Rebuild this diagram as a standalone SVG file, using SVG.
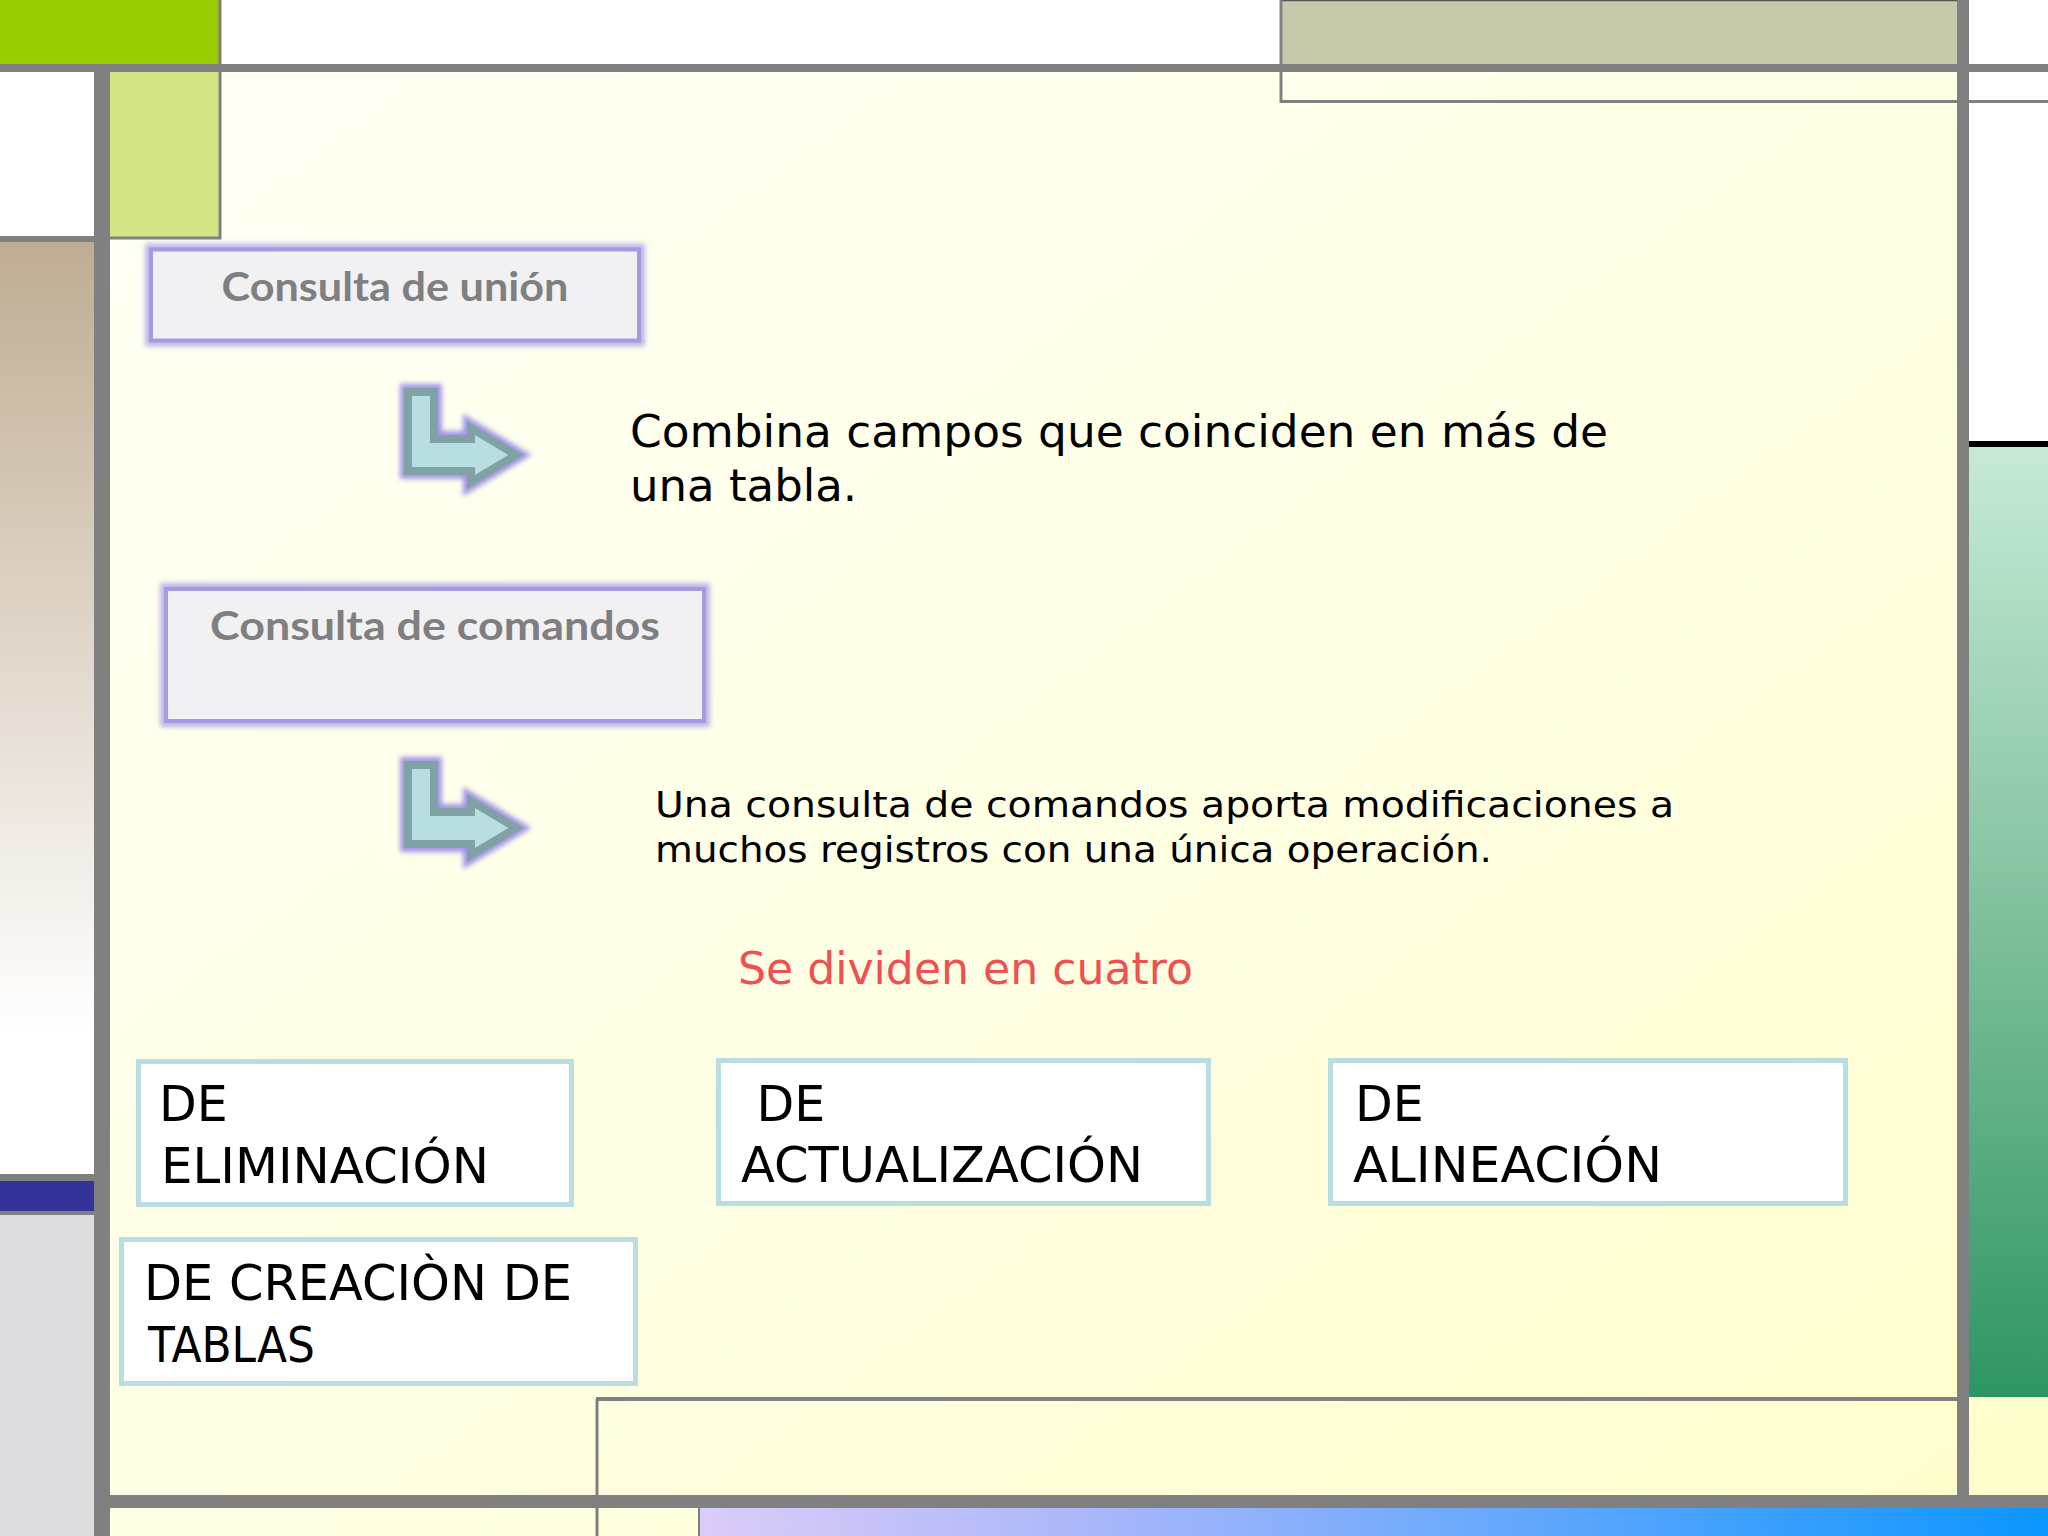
<svg xmlns="http://www.w3.org/2000/svg" width="2048" height="1536" viewBox="0 0 2048 1536">
  <defs>
    <linearGradient id="bg" x1="0" y1="0" x2="1" y2="1">
      <stop offset="0" stop-color="#FFFFF7"/>
      <stop offset="0.5" stop-color="#FFFFE6"/>
      <stop offset="1" stop-color="#FEFECB"/>
    </linearGradient>
    <linearGradient id="tan" x1="0" y1="0" x2="0" y2="1">
      <stop offset="0" stop-color="#BFAD93"/>
      <stop offset="0.45" stop-color="#E2D8CC"/>
      <stop offset="0.85" stop-color="#FFFFFF"/>
      <stop offset="1" stop-color="#FFFFFF"/>
    </linearGradient>
    <linearGradient id="green" x1="0" y1="0" x2="0" y2="1">
      <stop offset="0" stop-color="#C6EAD6"/>
      <stop offset="0.5" stop-color="#7FC09C"/>
      <stop offset="1" stop-color="#2E9563"/>
    </linearGradient>
    <linearGradient id="bluebar" x1="0" y1="0" x2="1" y2="0">
      <stop offset="0" stop-color="#DCCCF8"/>
      <stop offset="0.3" stop-color="#A8B6FA"/>
      <stop offset="1" stop-color="#0B96FF"/>
    </linearGradient>
    <filter id="glow" x="-20%" y="-20%" width="140%" height="140%">
      <feGaussianBlur stdDeviation="2.5"/>
    </filter>
    <style>
      .bar { fill: #808080; }
      .hdr-glow { fill: none; stroke: #A89CE8; stroke-width: 12; opacity: 0.75; }
      .hdr-box { fill: #F1F1F3; stroke: #A59BDF; stroke-width: 4; }
      .hdr-txt { font-family: Lato, "DejaVu Sans", sans-serif; font-weight: bold; font-size: 41px; fill: #7F7F7F; text-anchor: middle; }
      .body { font-family: "DejaVu Sans", "Liberation Sans", sans-serif; fill: #000000; }
      .red { font-family: "DejaVu Sans", "Liberation Sans", sans-serif; fill: #F05050; font-size: 44px; }
      .cat-box { fill: #FFFFFF; stroke: #B9DEE2; stroke-width: 5; }
      .cat-txt { font-family: "DejaVu Sans", "Liberation Sans", sans-serif; font-size: 49px; fill: #000000; }
      .arr-glow { fill: #9D90E6; stroke: #9D90E6; stroke-width: 16; stroke-linejoin: miter; opacity: 0.95; }
      .arr { fill: #B9DEE1; stroke: #80A2A4; stroke-width: 8; stroke-linejoin: miter; }
      .thin { stroke: #808080; stroke-width: 3; fill: none; }
    </style>
  </defs>

  <!-- background -->
  <rect x="0" y="0" width="2048" height="1536" fill="url(#bg)"/>
  <rect x="221" y="0" width="1059" height="64" fill="#FFFFFF"/>
  <rect x="1969" y="0" width="79" height="64" fill="#FFFFFF"/>
  <rect x="0" y="0" width="221" height="64" fill="#99CC00"/>
  <rect x="1280" y="0" width="677" height="64" fill="#C8C9AA"/>
  <line x1="1280" y1="0.5" x2="1957" y2="0.5" stroke="#555555" stroke-width="1.5"/>
  <rect x="0" y="72" width="94" height="164" fill="#FFFFFF"/>
  <rect x="110" y="72" width="110" height="165" fill="#D2E686"/>
  <rect x="1969" y="72" width="79" height="369" fill="#FFFFFF"/>
  <rect x="0" y="242" width="94" height="932" fill="url(#tan)"/>
  <rect x="0" y="1181" width="94" height="30" fill="#333399"/>
  <rect x="0" y="1215" width="94" height="321" fill="#DCDBDE"/>
  <rect x="1969" y="447" width="79" height="950" fill="url(#green)"/>
  <rect x="1969" y="441" width="79" height="6" fill="#000000"/>
  <rect x="700" y="1508" width="1348" height="28" fill="url(#bluebar)"/>
  <line x1="699" y1="1508" x2="699" y2="1536" stroke="#808080" stroke-width="2"/>

  <!-- frame bars -->
  <rect class="bar" x="0" y="64" width="2048" height="8"/>
  <rect class="bar" x="94" y="72" width="16" height="1464"/>
  <rect class="bar" x="1957" y="0" width="12" height="1508"/>
  <rect class="bar" x="94" y="1495" width="1954" height="13"/>
  <rect class="bar" x="0" y="236" width="94" height="6"/>
  <rect class="bar" x="0" y="1174" width="94" height="7"/>
  <rect class="bar" x="0" y="1211" width="94" height="4"/>
  <line class="thin" x1="220" y1="0" x2="220" y2="239"/>
  <line class="thin" x1="110" y1="238" x2="221" y2="238"/>
  <line class="thin" x1="1281" y1="0" x2="1281" y2="103"/>
  <line class="thin" x1="1280" y1="101.5" x2="2048" y2="101.5"/>
  <line class="thin" x1="597" y1="1399" x2="597" y2="1536"/>
  <line x1="596" y1="1399" x2="1957" y2="1399" stroke="#808080" stroke-width="4"/>

  <!-- header nodes -->
  <g id="node-consulta-union">
    <rect class="hdr-glow" x="151" y="249.5" width="488" height="91" filter="url(#glow)"/>
    <rect class="hdr-box" x="151" y="249.5" width="488" height="91"/>
    <text class="hdr-txt" x="395" y="301" textLength="347" lengthAdjust="spacingAndGlyphs">Consulta de unión</text>
  </g>
  <g id="node-consulta-comandos">
    <rect class="hdr-glow" x="166" y="589" width="538" height="132" filter="url(#glow)"/>
    <rect class="hdr-box" x="166" y="589" width="538" height="132"/>
    <text class="hdr-txt" x="435" y="640" textLength="450" lengthAdjust="spacingAndGlyphs">Consulta de comandos</text>
  </g>

  <!-- description nodes -->
  <g id="node-desc-union">
    <text class="body" font-size="45" x="630" y="447" textLength="978" lengthAdjust="spacingAndGlyphs">Combina campos que coinciden en más de</text>
    <text class="body" font-size="45" x="630" y="501">una tabla.</text>
  </g>
  <g id="node-desc-comandos">
    <text class="body" font-size="35" x="655" y="817" textLength="1019" lengthAdjust="spacingAndGlyphs">Una consulta de comandos aporta modificaciones a</text>
    <text class="body" font-size="35" x="655" y="862" textLength="837" lengthAdjust="spacingAndGlyphs">muchos registros con una única operación.</text>
  </g>
  <g id="node-se-dividen">
    <text class="red" x="738" y="984" textLength="455" lengthAdjust="spacingAndGlyphs">Se dividen en cuatro</text>
  </g>

  <!-- category nodes -->
  <g id="node-eliminacion">
    <rect class="cat-box" x="138.5" y="1061.5" width="433" height="143"/>
    <text class="cat-txt" x="159" y="1121">DE</text>
    <text class="cat-txt" x="161" y="1183" textLength="328" lengthAdjust="spacingAndGlyphs">ELIMINACIÓN</text>
  </g>
  <g id="node-actualizacion">
    <rect class="cat-box" x="718.5" y="1060.5" width="490" height="143"/>
    <text class="cat-txt" x="741" y="1121" xml:space="preserve"> DE</text>
    <text class="cat-txt" x="741" y="1182" textLength="402" lengthAdjust="spacingAndGlyphs">ACTUALIZACIÓN</text>
  </g>
  <g id="node-alineacion">
    <rect class="cat-box" x="1330.5" y="1060.5" width="515" height="143"/>
    <text class="cat-txt" x="1355" y="1121">DE</text>
    <text class="cat-txt" x="1353" y="1182" textLength="309" lengthAdjust="spacingAndGlyphs">ALINEACIÓN</text>
  </g>
  <g id="node-creacion-tablas">
    <rect class="cat-box" x="121.5" y="1239.5" width="514" height="144"/>
    <text class="cat-txt" x="144" y="1300" textLength="428" lengthAdjust="spacingAndGlyphs">DE CREACIÒN DE</text>
    <text class="cat-txt" x="148" y="1362" textLength="167" lengthAdjust="spacingAndGlyphs">TABLAS</text>
  </g>

  <!-- connectors -->
  <g id="connectors">
    <g id="arrow-union">
      <polygon class="arr-glow" filter="url(#glow)" points="408,392 434,392 434,439 471,439 471,428 516,455 471,482 471,471 408,471"/>
      <polygon class="arr" points="408,392 434,392 434,439 471,439 471,428 516,455 471,482 471,471 408,471"/>
    </g>
    <g id="arrow-comandos" transform="translate(0,373)">
      <polygon class="arr-glow" filter="url(#glow)" points="408,392 434,392 434,439 471,439 471,428 516,455 471,482 471,471 408,471"/>
      <polygon class="arr" points="408,392 434,392 434,439 471,439 471,428 516,455 471,482 471,471 408,471"/>
    </g>
  </g>
</svg>
